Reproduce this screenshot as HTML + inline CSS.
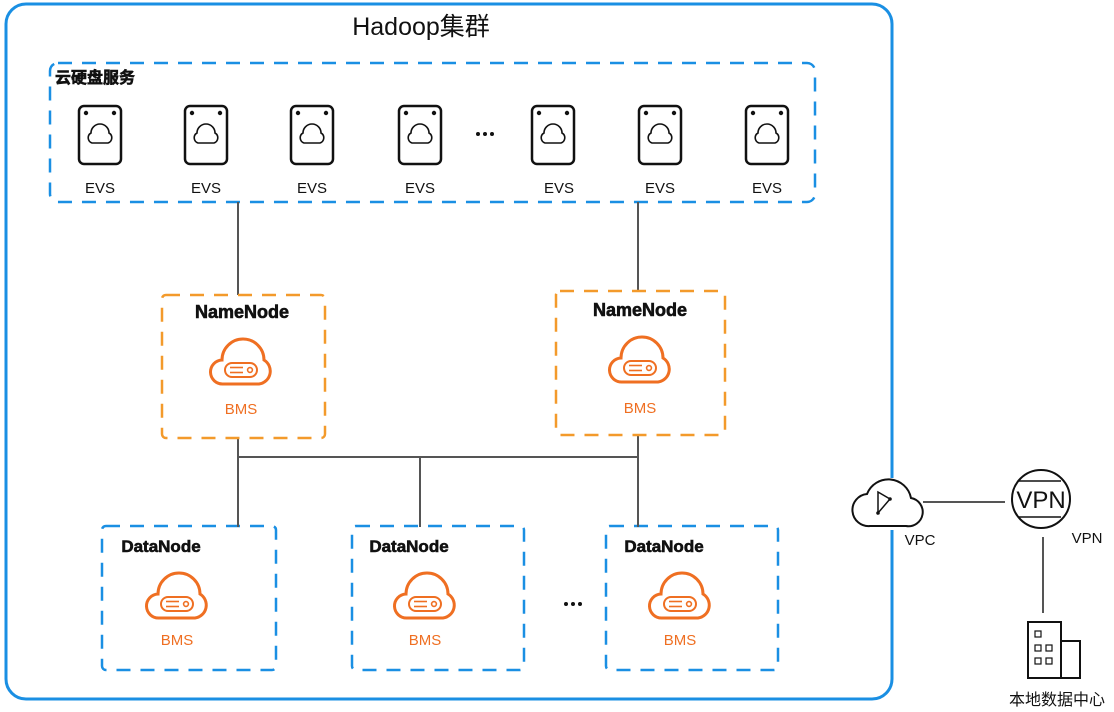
<!DOCTYPE html>
<html><head><meta charset="utf-8"><style>
html,body{margin:0;padding:0;background:#fff;}
svg{display:block;}
text{font-family:"Liberation Sans","Noto Sans CJK SC",sans-serif;}
.t{font-weight:bold;stroke:#111;stroke-width:0.6;}
</style></head><body>
<svg width="1114" height="712" viewBox="0 0 1114 712" xmlns="http://www.w3.org/2000/svg">
<defs>
<g id="bms" fill="none" stroke="#ef6f22">
<path d="M-18,20 H18 A13,13 0 0,0 23,-4 A21,21 0 0,0 -19,-4 A12,12 0 0,0 -18,20 Z" stroke-width="3"/>
<rect x="-16" y="-1" width="32" height="14" rx="7" stroke-width="2"/>
<line x1="-11" y1="3.5" x2="2" y2="3.5" stroke-width="1.6"/>
<line x1="-11" y1="8.5" x2="2" y2="8.5" stroke-width="1.6"/>
<circle cx="9" cy="6" r="2.4" stroke-width="1.6"/>
</g>
<g id="evs" fill="none" stroke="#111">
<rect x="-21" y="-29" width="42" height="58" rx="5" stroke-width="2.5"/>
<circle cx="-14" cy="-22" r="2.2" fill="#111" stroke="none"/>
<circle cx="14" cy="-22" r="2.2" fill="#111" stroke="none"/>
<path d="M-8,8 H8 A5.5,5.5 0 0,0 9,-2 A9,9 0 0,0 -9,-2 A5.5,5.5 0 0,0 -8,8 Z" stroke-width="1.6"/>
</g>
</defs>

<rect x="6" y="4" width="886" height="695" rx="20" fill="none" stroke="#1a8fe3" stroke-width="3"/>
<text x="421" y="35" font-size="25" text-anchor="middle" fill="#111">Hadoop集群</text>

<rect x="50" y="63" width="765" height="139" rx="8" fill="none" stroke="#1a8fe3" stroke-width="2.5" stroke-dasharray="14,10"/>
<text x="55" y="83" font-size="16" class="t" fill="#111">云硬盘服务</text>

<g>
<use href="#evs" x="100" y="135"/><text x="100" y="193" font-size="15" text-anchor="middle" fill="#111">EVS</text>
<use href="#evs" x="206" y="135"/><text x="206" y="193" font-size="15" text-anchor="middle" fill="#111">EVS</text>
<use href="#evs" x="312" y="135"/><text x="312" y="193" font-size="15" text-anchor="middle" fill="#111">EVS</text>
<use href="#evs" x="420" y="135"/><text x="420" y="193" font-size="15" text-anchor="middle" fill="#111">EVS</text>
<g fill="#111"><circle cx="478" cy="134" r="2"/><circle cx="485" cy="134" r="2"/><circle cx="492" cy="134" r="2"/></g>
<use href="#evs" x="553" y="135"/><text x="559" y="193" font-size="15" text-anchor="middle" fill="#111">EVS</text>
<use href="#evs" x="660" y="135"/><text x="660" y="193" font-size="15" text-anchor="middle" fill="#111">EVS</text>
<use href="#evs" x="767" y="135"/><text x="767" y="193" font-size="15" text-anchor="middle" fill="#111">EVS</text>
</g>

<g stroke="#555" stroke-width="2" fill="none">
<line x1="238" y1="202" x2="238" y2="295"/>
<line x1="638" y1="202" x2="638" y2="291"/>
<line x1="238" y1="457" x2="638" y2="457"/>
<line x1="238" y1="438" x2="238" y2="526"/>
<line x1="420" y1="457" x2="420" y2="526"/>
<line x1="638" y1="435" x2="638" y2="526"/>
</g>

<g fill="#fff" stroke="#f39a2b" stroke-width="2.5" stroke-dasharray="14,10">
<rect x="162" y="295" width="163" height="143" rx="4"/>
<rect x="556" y="291" width="169" height="144" rx="4"/>
</g>
<text x="242" y="318" font-size="18" class="t" text-anchor="middle" fill="#111">NameNode</text>
<use href="#bms" x="241" y="364"/>
<text x="241" y="414" font-size="15" text-anchor="middle" fill="#ef6f22">BMS</text>
<text x="640" y="316" font-size="18" class="t" text-anchor="middle" fill="#111">NameNode</text>
<use href="#bms" x="640" y="362"/>
<text x="640" y="413" font-size="15" text-anchor="middle" fill="#ef6f22">BMS</text>

<g fill="#fff" stroke="#1a8fe3" stroke-width="2.5" stroke-dasharray="14,10">
<rect x="102" y="526" width="174" height="144" rx="4"/>
<rect x="352" y="526" width="172" height="144" rx="4"/>
<rect x="606" y="526" width="172" height="144" rx="4"/>
</g>
<line x1="238" y1="520" x2="238" y2="527" stroke="#555" stroke-width="2"/>
<line x1="420" y1="520" x2="420" y2="527" stroke="#555" stroke-width="2"/>
<line x1="638" y1="520" x2="638" y2="527" stroke="#555" stroke-width="2"/>
<text x="161" y="552" font-size="17" class="t" text-anchor="middle" fill="#111">DataNode</text>
<use href="#bms" x="177" y="598"/>
<text x="177" y="645" font-size="15" text-anchor="middle" fill="#ef6f22">BMS</text>
<text x="409" y="552" font-size="17" class="t" text-anchor="middle" fill="#111">DataNode</text>
<use href="#bms" x="425" y="598"/>
<text x="425" y="645" font-size="15" text-anchor="middle" fill="#ef6f22">BMS</text>
<text x="664" y="552" font-size="17" class="t" text-anchor="middle" fill="#111">DataNode</text>
<use href="#bms" x="680" y="598"/>
<text x="680" y="645" font-size="15" text-anchor="middle" fill="#ef6f22">BMS</text>
<g fill="#111"><circle cx="566" cy="604" r="2"/><circle cx="573" cy="604" r="2"/><circle cx="580" cy="604" r="2"/></g>

<!-- VPC -->
<rect x="852" y="478" width="70" height="52" fill="#fff"/>
<path d="M870,526 H906 A14,14 0 0,0 911,498 A23,23 0 0,0 867,494 A16,16 0 0,0 870,526 Z" fill="#fff" stroke="#111" stroke-width="2"/>
<path d="M878,492 L890,499 L878,513 Z" fill="none" stroke="#111" stroke-width="1.5"/>
<circle cx="890" cy="499" r="1.8" fill="#111"/><circle cx="878" cy="513" r="1.8" fill="#111"/>
<text x="920" y="545" font-size="15" text-anchor="middle" fill="#111">VPC</text>
<line x1="923" y1="502" x2="1005" y2="502" stroke="#555" stroke-width="2"/>
<circle cx="1041" cy="499" r="29" fill="#fff" stroke="#111" stroke-width="2"/>
<line x1="1019" y1="481" x2="1061" y2="481" stroke="#111" stroke-width="1.5"/>
<line x1="1019" y1="517" x2="1061" y2="517" stroke="#111" stroke-width="1.5"/>
<text x="1041" y="508" font-size="24" text-anchor="middle" fill="#111">VPN</text>
<text x="1087" y="543" font-size="15" text-anchor="middle" fill="#111">VPN</text>
<line x1="1043" y1="537" x2="1043" y2="613" stroke="#555" stroke-width="2"/>
<rect x="1028" y="622" width="33" height="56" fill="#fff" stroke="#111" stroke-width="2"/>
<rect x="1061" y="641" width="19" height="37" fill="#fff" stroke="#111" stroke-width="2"/>
<g fill="none" stroke="#111" stroke-width="1.2">
<rect x="1035" y="631" width="6" height="6"/>
<rect x="1035" y="645" width="6" height="6"/><rect x="1046" y="645" width="6" height="6"/>
<rect x="1035" y="658" width="6" height="6"/><rect x="1046" y="658" width="6" height="6"/>
</g>
<text x="1057" y="705" font-size="16" text-anchor="middle" fill="#111">本地数据中心</text>
</svg>
</body></html>
